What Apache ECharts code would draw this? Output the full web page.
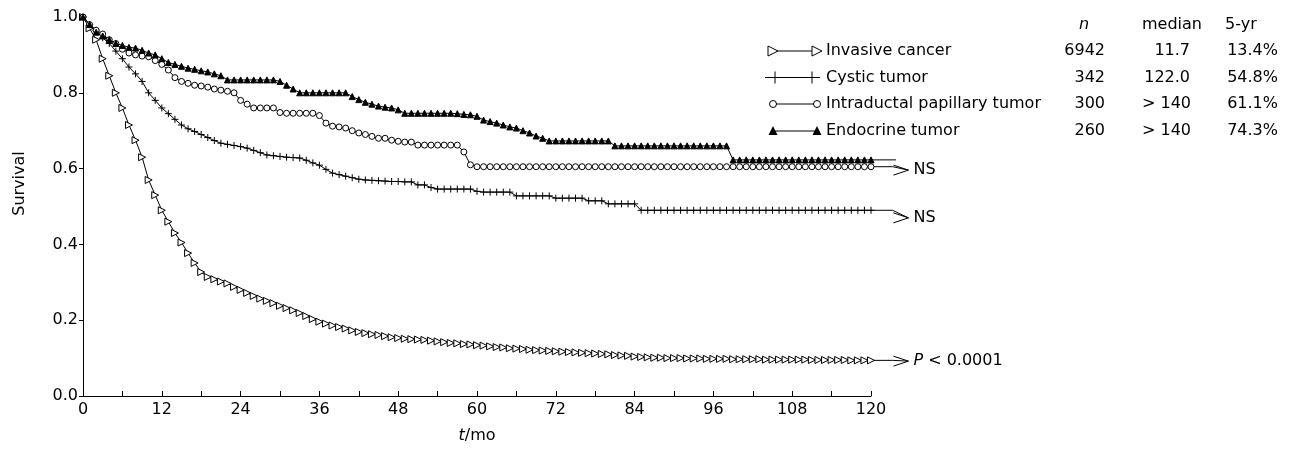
<!DOCTYPE html>
<html>
<head>
<meta charset="utf-8">
<script src="https://cdn.jsdelivr.net/npm/echarts@6/dist/echarts.min.js"></script>
<style>
  html, body { margin: 0; padding: 0; background: #fff; }
  #main { width: 1291px; height: 452px; }
</style>
</head>
<body>
<div id="main"></div>
<script>
    // survival, one value per month (0..120)
    var invasive = [
        1.0, 0.97, 0.94, 0.89, 0.845, 0.80, 0.76, 0.715, 0.675, 0.63,
        0.57, 0.53, 0.49, 0.46, 0.43, 0.405, 0.377, 0.351, 0.327, 0.314,
        0.308, 0.302, 0.297, 0.288, 0.28, 0.272, 0.264, 0.257, 0.251, 0.245,
        0.238, 0.232, 0.226, 0.219, 0.211, 0.203, 0.196, 0.191, 0.186, 0.182,
        0.178, 0.173, 0.169, 0.166, 0.163, 0.161, 0.158, 0.155, 0.153, 0.151,
        0.15, 0.149, 0.148, 0.146, 0.144, 0.142, 0.14, 0.139, 0.137, 0.136,
        0.134, 0.133, 0.131, 0.129, 0.128, 0.126, 0.125, 0.124, 0.122, 0.121,
        0.12, 0.119, 0.118, 0.117, 0.116, 0.115, 0.114, 0.113, 0.112, 0.111,
        0.11, 0.108, 0.107, 0.106, 0.104, 0.103, 0.102, 0.101, 0.101, 0.1,
        0.1, 0.1, 0.099, 0.099, 0.099, 0.098, 0.098, 0.098, 0.098, 0.097,
        0.097, 0.097, 0.097, 0.097, 0.096, 0.096, 0.096, 0.096, 0.096, 0.096,
        0.096, 0.095, 0.095, 0.095, 0.095, 0.095, 0.095, 0.094, 0.094, 0.094,
        0.094
    ];
    var cystic = [
        1.0, 0.98, 0.965, 0.945, 0.93, 0.91, 0.89, 0.868, 0.85, 0.83,
        0.80, 0.78, 0.76, 0.745, 0.73, 0.715, 0.705, 0.698, 0.69, 0.682,
        0.674, 0.667, 0.664, 0.661, 0.658, 0.654, 0.648, 0.642, 0.636, 0.634,
        0.632, 0.63, 0.629, 0.628, 0.622, 0.615, 0.609, 0.598, 0.588, 0.584,
        0.58, 0.576, 0.572, 0.57, 0.569, 0.568, 0.567, 0.566, 0.566, 0.565,
        0.565, 0.557, 0.557, 0.55, 0.546, 0.546, 0.546, 0.546, 0.546, 0.546,
        0.54, 0.538, 0.538, 0.538, 0.538, 0.538, 0.528, 0.528, 0.528, 0.528,
        0.528, 0.528, 0.522, 0.522, 0.522, 0.522, 0.522, 0.515, 0.515, 0.515,
        0.507, 0.507, 0.507, 0.507, 0.507, 0.49, 0.49, 0.49, 0.49, 0.49,
        0.49, 0.49, 0.49, 0.49, 0.49, 0.49, 0.49, 0.49, 0.49, 0.49,
        0.49, 0.49, 0.49, 0.49, 0.49, 0.49, 0.49, 0.49, 0.49, 0.49,
        0.49, 0.49, 0.49, 0.49, 0.49, 0.49, 0.49, 0.49, 0.49, 0.49,
        0.49
    ];
    var intraductal = [
        1.0, 0.98, 0.965, 0.955, 0.94, 0.93, 0.915, 0.905, 0.90, 0.897,
        0.895, 0.885, 0.875, 0.86, 0.84, 0.83, 0.825, 0.82, 0.818, 0.815,
        0.81, 0.807, 0.804, 0.80, 0.78, 0.77, 0.76, 0.76, 0.76, 0.76,
        0.748, 0.746, 0.746, 0.746, 0.746, 0.746, 0.74, 0.72, 0.712, 0.71,
        0.707, 0.70, 0.694, 0.69, 0.685, 0.68, 0.68, 0.675, 0.672, 0.67,
        0.67, 0.662, 0.662, 0.662, 0.662, 0.662, 0.662, 0.662, 0.644, 0.61,
        0.605, 0.605, 0.605, 0.605, 0.605, 0.605, 0.605, 0.605, 0.605, 0.605,
        0.605, 0.605, 0.605, 0.605, 0.605, 0.605, 0.605, 0.605, 0.605, 0.605,
        0.605, 0.605, 0.605, 0.605, 0.605, 0.605, 0.605, 0.605, 0.605, 0.605,
        0.605, 0.605, 0.605, 0.605, 0.605, 0.605, 0.605, 0.605, 0.605, 0.605,
        0.605, 0.605, 0.605, 0.605, 0.605, 0.605, 0.605, 0.605, 0.605, 0.605,
        0.605, 0.605, 0.605, 0.605, 0.605, 0.605, 0.605, 0.605, 0.605, 0.605,
        0.605
    ];
    var endocrine = [
        1.0, 0.98, 0.96, 0.95, 0.94, 0.93, 0.925, 0.92, 0.918, 0.912,
        0.905, 0.90, 0.89, 0.88, 0.875, 0.87, 0.865, 0.862, 0.858, 0.855,
        0.85, 0.845, 0.834, 0.834, 0.834, 0.834, 0.834, 0.834, 0.834, 0.834,
        0.83, 0.82, 0.81, 0.80, 0.80, 0.80, 0.80, 0.80, 0.80, 0.80,
        0.80, 0.79, 0.782, 0.775, 0.77, 0.765, 0.762, 0.76, 0.755, 0.746,
        0.746, 0.746, 0.746, 0.746, 0.746, 0.746, 0.746, 0.745, 0.743, 0.742,
        0.738, 0.728, 0.724, 0.72, 0.715, 0.71, 0.707, 0.70, 0.694, 0.686,
        0.68, 0.673, 0.673, 0.673, 0.673, 0.673, 0.673, 0.673, 0.673, 0.673,
        0.673, 0.66, 0.66, 0.66, 0.66, 0.66, 0.66, 0.66, 0.66, 0.66,
        0.66, 0.66, 0.66, 0.66, 0.66, 0.66, 0.66, 0.66, 0.66, 0.623,
        0.623, 0.623, 0.623, 0.623, 0.623, 0.623, 0.623, 0.623, 0.623, 0.623,
        0.623, 0.623, 0.623, 0.623, 0.623, 0.623, 0.623, 0.623, 0.623, 0.623,
        0.623
    ];

    var groupNames = ['Invasive cancer', 'Cystic tumor', 'Intraductal papillary tumor', 'Endocrine tumor'];
    var groupN = ['6942', '342', '300', '260'];
    var groupMedian = ['11.7', '122.0', '> 140', '> 140'];
    var group5yr = ['13.4%', '54.8%', '61.1%', '74.3%'];
    var xTicks = [0, 12, 24, 36, 48, 60, 72, 84, 96, 108, 120];

    // end-of-curve arrows: [start survival, arrow tip survival, text index]
    var arrowTexts = ['NS', 'NS', '{i|P} < 0.0001', ''];
    var arrowData = [
        [intraductal[120], 0.596, 0],
        [cystic[120], 0.47, 1],
        [invasive[120], 0.092, 2],
        [endocrine[120], endocrine[120], 3]
    ];

    var FONT = 'DejaVu Sans';
    var openTri = 'path://M0,0 L10,5 L0,10 Z';
    var plus = 'path://M5,0 L5,10 M0,5 L10,5';

    function toPairs(arr) {
        var out = [];
        for (var i = 0; i < arr.length; i++) {
            out.push([i, arr[i]]);
        }
        return out;
    }

    function curve(name, arr, symbol, size, fill) {
        return {
            name: name,
            type: 'line',
            data: toPairs(arr),
            symbol: symbol,
            symbolSize: size,
            showAllSymbol: true,
            animation: false,
            lineStyle: { color: '#000', width: 1 },
            itemStyle: { color: fill, borderColor: '#000', borderWidth: 1 },
            z: 3
        };
    }

    function renderArrow(params, api) {
        var y0 = api.value(0);
        var y1 = api.value(1);
        var k = api.value(2);
        var p0 = api.coord([120, y0]);
        if (k === 3) {
            var pe = api.coord([123.8, y0]);
            return { type: 'polyline', shape: { points: [p0, pe] }, style: { stroke: '#000', lineWidth: 1, fill: null } };
        }
        var p1 = api.coord([123.3, y0]);
        var p2 = api.coord([125.7, y1]);
        return {
            type: 'group',
            children: [
                { type: 'polyline', shape: { points: [p0, p1, p2] }, style: { stroke: '#000', lineWidth: 1, fill: null } },
                { type: 'polyline', shape: { points: [[p2[0] - 15, p2[1] - 5], p2, [p2[0] - 15, p2[1] + 5]] }, style: { stroke: '#000', lineWidth: 1, fill: null } },
                {
                    type: 'text', x: p2[0] + 5, y: p2[1],
                    style: {
                        text: arrowTexts[k], fill: '#000', fontFamily: FONT, fontSize: 16,
                        verticalAlign: 'middle', align: 'left',
                        rich: { i: { fontStyle: 'italic', fontFamily: FONT, fontSize: 16, fill: '#000' } }
                    }
                }
            ]
        };
    }

    // legend rows drawn by hand: marker - line - marker, then the table
    var rowY = [51, 77.5, 104, 131];
    function icon(kind, cx, cy) {
        var st = { fill: '#fff', stroke: '#000', lineWidth: 1 };
        if (kind === 0) {
            return { type: 'polygon', shape: { points: [[cx - 5, cy - 5], [cx + 5, cy], [cx - 5, cy + 5]] }, style: st };
        }
        if (kind === 1) {
            return { type: 'line', shape: { x1: cx, y1: cy - 6, x2: cx, y2: cy + 6 }, style: { stroke: '#000', lineWidth: 1 } };
        }
        if (kind === 2) {
            return { type: 'circle', shape: { cx: cx, cy: cy, r: 3.5 }, style: st };
        }
        return { type: 'polygon', shape: { points: [[cx - 4.5, cy + 4], [cx, cy - 5], [cx + 4.5, cy + 4]] }, style: { fill: '#000' } };
    }

    var graphics = [];
    var txt = { fill: '#000', fontFamily: FONT, fontSize: 16, verticalAlign: 'middle' };
    graphics.push({ type: 'text', left: 1079, top: 17, style: Object.assign({}, txt, { text: 'n', fontStyle: 'italic', verticalAlign: 'top' }) });
    graphics.push({ type: 'text', left: 1142, top: 17, style: Object.assign({}, txt, { text: 'median', verticalAlign: 'top' }) });
    graphics.push({ type: 'text', left: 1225, top: 17, style: Object.assign({}, txt, { text: '5-yr', verticalAlign: 'top' }) });
    for (var r = 0; r < groupNames.length; r++) {
        var y = rowY[r];
        var a = r === 1 ? 775 : 773;
        var b = r === 1 ? 812 : 817;
        graphics.push({ type: 'line', shape: { x1: r === 1 ? 765 : a, y1: y, x2: r === 1 ? 820 : b, y2: y }, style: { stroke: '#000', lineWidth: 1 } });
        graphics.push(icon(r, a, y));
        graphics.push(icon(r, b, y));
        graphics.push({ type: 'text', x: 826, y: y, style: Object.assign({}, txt, { text: groupNames[r], align: 'left' }) });
        graphics.push({ type: 'text', x: 1105, y: y, style: Object.assign({}, txt, { text: groupN[r], align: 'right' }) });
        if (groupMedian[r].charAt(0) === '>') {
            graphics.push({ type: 'text', x: 1142, y: y, style: Object.assign({}, txt, { text: groupMedian[r], align: 'left' }) });
        } else {
            graphics.push({ type: 'text', x: 1190, y: y, style: Object.assign({}, txt, { text: groupMedian[r], align: 'right' }) });
        }
        graphics.push({ type: 'text', x: 1278, y: y, style: Object.assign({}, txt, { text: group5yr[r], align: 'right' }) });
    }

    var myChart = echarts.init(document.getElementById('main'));
    var option = {
        backgroundColor: '#fff',
        animation: false,
        grid: { left: 83, right: 420, top: 17, bottom: 56 },
        xAxis: {
            type: 'value',
            min: 0,
            max: 120,
            interval: 12,
            name: '{i|t}/mo',
            nameLocation: 'middle',
            nameGap: 32,
            nameTextStyle: {
                color: '#000', fontFamily: FONT, fontSize: 16,
                rich: { i: { fontStyle: 'italic', fontFamily: FONT, fontSize: 16, color: '#000' } }
            },
            axisLine: { show: true, lineStyle: { color: '#000', width: 1 } },
            axisTick: { show: true, inside: true, length: 5, lineStyle: { color: '#000' } },
            minorTick: { show: true, splitNumber: 2, length: 5, lineStyle: { color: '#000' } },
            splitLine: { show: false },
            axisLabel: {
                color: '#000', fontFamily: FONT, fontSize: 16, margin: 6,
                customValues: xTicks
            }
        },
        yAxis: {
            type: 'value',
            min: 0,
            max: 1,
            interval: 0.2,
            name: 'Survival',
            nameLocation: 'middle',
            nameGap: 55,
            nameTextStyle: { color: '#000', fontFamily: FONT, fontSize: 16, padding: [0, 0, 0, 46] },
            axisLine: { show: true, lineStyle: { color: '#000', width: 1 } },
            axisTick: { show: true, length: 4, lineStyle: { color: '#000' } },
            splitLine: { show: false },
            axisLabel: {
                color: '#000', fontFamily: FONT, fontSize: 16, margin: 5,
                formatter: function (v) { return v.toFixed(1); }
            }
        },
        graphic: graphics,
        series: [
            curve(groupNames[0], invasive, openTri, 7, '#fff'),
            curve(groupNames[1], cystic, plus, 7, 'transparent'),
            curve(groupNames[2], intraductal, 'circle', 6, '#fff'),
            curve(groupNames[3], endocrine, 'triangle', 6, '#000'),
            {
                type: 'custom',
                clip: false,
                silent: true,
                animation: false,
                data: arrowData,
                renderItem: renderArrow,
                z: 2
            }
        ]
    };
    myChart.setOption(option);
    window.addEventListener("resize", function () {
        myChart.resize();
    }, false);
</script>
</body>
</html>
